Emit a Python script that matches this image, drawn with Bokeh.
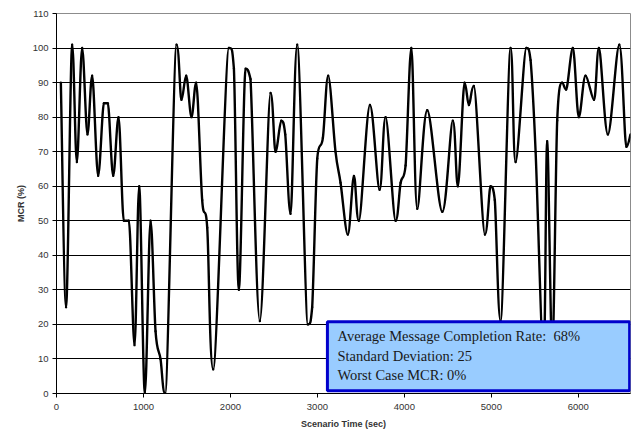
from bokeh.plotting import figure
from bokeh.models import Range1d, FixedTicker, Label
from bokeh.embed import file_html
from bokeh.resources import INLINE

# Scenario time (sec) and message completion rate (%)
time_sec = [50, 110, 180, 234, 295, 356, 410, 479, 545, 590, 652, 713, 774, 832,
            897, 951, 1016, 1081, 1139, 1196, 1250, 1380, 1437, 1491, 1552, 1606,
            1675, 1733, 1802, 1982, 2040, 2097, 2174, 2231, 2338, 2461, 2519, 2584,
            2630, 2691, 2768, 2890, 2940, 2998, 3063, 3124, 3208, 3266, 3350, 3420,
            3477, 3604, 3715, 3784, 3899, 3957, 4014, 4080, 4148, 4263, 4436, 4557,
            4615, 4692, 4742, 4799, 4926, 4991, 5040, 5106, 5221, 5279, 5402, 5451,
            5509, 5600, 5642, 5700, 5757, 5814, 5860, 5937, 6006, 6083, 6180, 6237,
            6340, 6471, 6552, 6600]
mcr_pct = [90, 25, 101, 67, 100, 75, 92, 63, 84, 84, 63, 80, 50, 50,
           14, 60, 0, 50, 18, 10, 0, 101, 85, 92, 80, 90,
           56, 48, 7, 100, 94, 30, 94, 91, 21, 87, 70, 79,
           75, 52, 101, 20, 25, 68, 74, 92, 70, 61, 46, 63,
           50, 83.5, 59, 80, 50, 61, 66, 100, 53.5, 82, 52.6, 79,
           60, 90, 83.5, 89, 46, 60, 56, 21, 100, 67, 100, 96.5,
           70, 10, 73, 12, 79, 90, 88, 100, 80, 92, 85, 100,
           75, 101, 71.4, 75]

x_ticks = [0, 1000, 2000, 3000, 4000, 5000, 6000]
y_ticks = [0, 10, 20, 30, 40, 50, 60, 70, 80, 90, 100, 110]
grid_ticks = [10, 20, 30, 40, 50, 60, 70, 80, 90, 100]

summary_lines = ["Average Message Completion Rate:\u00a0\u00a068%",
                 "Standard Deviation: 25",
                 "Worst Case MCR: 0%"]

p = figure(width=634, height=432, output_backend="svg", toolbar_location=None,
           x_range=Range1d(0, 6600), y_range=Range1d(0, 110),
           min_border_left=56, min_border_right=4, min_border_top=13, min_border_bottom=39)
p.background_fill_color = "white"
p.border_fill_color = "white"
p.outline_line_color = "#8c8c8c"
p.outline_line_width = 1

# axes
p.xaxis.ticker = FixedTicker(ticks=x_ticks)
p.yaxis.ticker = FixedTicker(ticks=y_ticks)
for ax in (p.xaxis[0], p.yaxis[0]):
    ax.axis_line_color = "black"
    ax.axis_line_width = 1
    ax.major_tick_line_color = "black"
    ax.major_tick_out = 4
    ax.major_tick_in = 0
    ax.minor_tick_line_color = None
    ax.major_label_text_font = "Liberation Sans"
    ax.major_label_text_font_size = "9.5px"
    ax.major_label_text_color = "#333333"
    ax.axis_label_text_font = "Liberation Sans"
    ax.axis_label_text_font_size = "9px"
    ax.axis_label_text_font_style = "bold"
    ax.axis_label_text_color = "#333333"
p.xaxis.axis_label = "Scenario Time (sec)"
p.yaxis.axis_label = "MCR (%)"
p.xaxis.major_label_standoff = 6
p.xaxis.axis_label_standoff = 6
p.yaxis.major_label_standoff = 4
p.yaxis.axis_label_standoff = 4

p.xgrid.grid_line_color = None
p.ygrid.ticker = FixedTicker(ticks=grid_ticks)
p.ygrid.grid_line_color = "black"
p.ygrid.grid_line_width = 1

# smoothed line: Bezier segments through the read points (flat tangents at turning points)
n = len(time_sec)
tx, ty = [], []
for i in range(n):
    pm = max(i - 1, 0)
    pp = min(i + 1, n - 1)
    dx = (time_sec[pp] - time_sec[pm]) / 6.0
    dy = (mcr_pct[pp] - mcr_pct[pm]) / 6.0
    if 0 < i < n - 1:
        a = mcr_pct[i] - mcr_pct[i - 1]
        b = mcr_pct[i + 1] - mcr_pct[i]
        if a * b <= 0:
            dy = 0.0
    tx.append(dx)
    ty.append(dy)
x0, y0, x1, y1, cx0, cy0, cx1, cy1 = [], [], [], [], [], [], [], []
for i in range(n - 1):
    lo = min(mcr_pct[i], mcr_pct[i + 1])
    hi = max(mcr_pct[i], mcr_pct[i + 1])
    x0.append(time_sec[i]); y0.append(mcr_pct[i])
    x1.append(time_sec[i + 1]); y1.append(mcr_pct[i + 1])
    cx0.append(time_sec[i] + tx[i])
    cy0.append(min(max(mcr_pct[i] + ty[i], lo), hi))
    cx1.append(time_sec[i + 1] - tx[i + 1])
    cy1.append(min(max(mcr_pct[i + 1] - ty[i + 1], lo), hi))
p.bezier(x0=x0, y0=y0, x1=x1, y1=y1, cx0=cx0, cy0=cy0, cx1=cx1, cy1=cy1,
         line_color="black", line_width=2.4, line_join="round", line_cap="round")

# summary box
p.quad(left=[3115], right=[6590], bottom=[0.8], top=[20.8],
       fill_color="#99ccff", line_color="#0000cc", line_width=3)
for i, txt in enumerate(summary_lines):
    p.add_layout(Label(x=3231, y=16.6 - i * 5.65, text=txt, text_font="Liberation Serif",
                       text_font_size="14.5px", text_color="#1a1a1a",
                       text_baseline="middle", text_align="left"))

open("out.html", "w").write(file_html(p, INLINE))
